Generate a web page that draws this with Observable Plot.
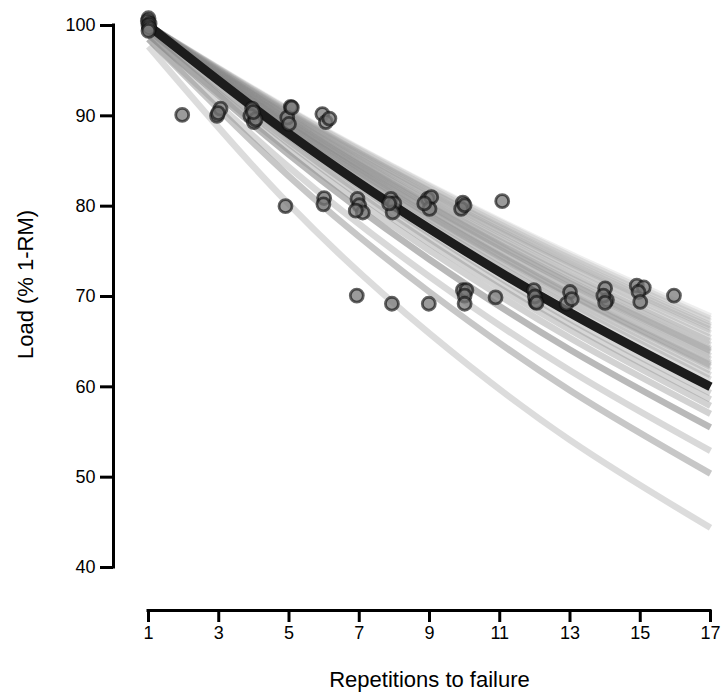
<!DOCTYPE html>
<html>
<head>
<meta charset="utf-8">
<script src="https://cdn.jsdelivr.net/npm/d3@7"></script>
<script src="https://cdn.jsdelivr.net/npm/@observablehq/plot@0.6"></script>
<style>
  html, body { margin: 0; padding: 0; background: white; }
</style>
</head>
<body>
<div id="chart"></div>
<script>
// Observed points: repetitions to failure vs load (% 1-RM)
const repX = [
  1.0, 0.98, 1.03, 1.0, 1.02, 1.0,
  1.96,
  2.95, 3.05, 2.98,
  3.95, 3.9, 4.0, 4.05, 3.98,
  5.05, 4.95, 5.0, 5.08, 4.9,
  5.95, 6.05, 6.15, 6.0, 5.98,
  6.95, 7.0, 7.1, 6.9, 6.93,
  7.9, 8.0, 7.95, 7.85, 7.93,
  8.95, 9.05, 9.0, 8.85, 8.98,
  9.95, 9.9, 10.0, 9.95, 10.05, 10.0, 10.0,
  11.07, 10.88,
  11.97, 12.02, 12.0, 12.05,
  13.0, 12.9, 13.05,
  14.0, 14.05, 13.95, 14.0,
  14.9, 15.1, 14.95, 15.0,
  15.96
];
const loadY = [
  100.8, 100.5, 100.2, 100.0, 99.7, 99.4,
  90.1,
  90.0, 90.8, 90.3,
  90.8, 90.0, 89.3, 89.6, 90.4,
  91.0, 89.8, 89.1, 90.9, 80.0,
  90.2, 89.3, 89.7, 80.9, 80.2,
  80.8, 80.1, 79.3, 79.5, 70.1,
  80.8, 80.3, 79.3, 80.3, 69.2,
  80.8, 81.0, 79.7, 80.3, 69.2,
  80.4, 79.7, 80.1, 70.7, 70.7, 70.1, 69.2,
  80.55, 69.9,
  70.7, 69.4, 70.0, 69.3,
  70.5, 69.2, 69.7,
  70.9, 69.6, 70.1, 69.3,
  71.2, 71.0, 70.5, 69.4,
  70.1
];

// Fitted curves read at these repetition counts
const curveReps = [1, 5, 9, 13, 17];
const individualCurves = [
  [100, 90.7, 82.3, 74.7, 67.8],
  [100, 90.6, 82.2, 74.5, 67.5],
  [100, 90.55, 82.0, 74.2, 67.2],
  [100, 90.4, 81.7, 73.9, 66.8],
  [100, 90.3, 81.6, 73.7, 66.6],
  [100, 90.2, 81.4, 73.4, 66.3],
  [100, 90.1, 81.2, 73.2, 65.9],
  [100, 89.9, 80.9, 72.7, 65.4],
  [100, 89.8, 80.6, 72.4, 65.0],
  [100, 89.7, 80.4, 72.1, 64.6],
  [100, 89.5, 80.1, 71.7, 64.2],
  [100, 89.4, 80.0, 71.5, 64.0],
  [100, 89.4, 79.9, 71.4, 63.8],
  [100, 89.2, 79.6, 71.0, 63.4],
  [100, 89.1, 79.4, 70.7, 63.0],
  [100, 88.9, 79.1, 70.3, 62.6],
  [100, 88.9, 79.0, 70.2, 62.4],
  [100, 88.8, 78.9, 70.1, 62.2],
  [100, 88.7, 78.6, 69.7, 61.8],
  [100, 88.5, 78.3, 69.3, 61.3],
  [100, 88.3, 78.0, 68.9, 60.8],
  [100, 87.7, 77.0, 67.5, 59.3],
  [99.5, 87.2, 76.4, 66.9, 58.6],
  [99.5, 86.9, 75.9, 66.3, 57.9],
  [99.0, 86.2, 75.1, 65.4, 57.0],
  [99.0, 85.7, 74.1, 64.1, 55.5],
  [98.5, 84.3, 72.2, 61.8, 52.9],
  [98.5, 83.3, 70.5, 59.6, 50.4],
  [97.7, 80.2, 65.9, 54.1, 44.4]
];
const curveWeight = [
  0.15, 0.18, 0.2, 0.22, 0.22, 0.25, 0.25, 0.28, 0.28, 0.28,
  0.3, 0.3, 0.3, 0.3, 0.3, 0.3, 0.28, 0.28, 0.28, 0.3,
  0.3, 0.35, 0.35, 0.38, 0.38, 0.6, 0.32, 0.48, 0.3
];
const meanCurve = [100, 88.0, 77.5, 68.2, 60.0];

const xTicks = [1, 3, 5, 7, 9, 11, 13, 15, 17];
const yTicks = [40, 50, 60, 70, 80, 90, 100];

// Build tables
const points = repX.map((x, i) => ({rep: x, load: loadY[i]}));
const curveRows = [];
individualCurves.forEach((vals, id) => {
  vals.forEach((v, j) => curveRows.push({rep: curveReps[j], load: v, id, w: curveWeight[id]}));
});
const meanRows = meanCurve.map((v, j) => ({rep: curveReps[j], load: v}));

const chart = Plot.plot({
  width: 721,
  height: 695,
  marginLeft: 148,
  marginRight: 11,
  marginTop: 25,
  marginBottom: 128,
  x: {domain: [1, 17], axis: null},
  y: {domain: [40, 100], axis: null},
  opacity: {type: "identity"},
  style: {fontFamily: "'Liberation Sans', Arial, Helvetica, sans-serif", background: "white", color: "#000"},
  marks: [
    // individual fitted curves
    Plot.line(curveRows, {x: "rep", y: "load", z: "id", stroke: "#8a8a8a", strokeOpacity: "w",
      strokeWidth: 6.5, curve: "natural", strokeLinecap: "butt"}),
    // mean fitted curve
    Plot.line(meanRows, {x: "rep", y: "load", stroke: "#1c1c1c", strokeWidth: 9,
      curve: "natural", strokeLinecap: "butt"}),
    // observed points
    Plot.dot(points, {x: "rep", y: "load", r: 6.5, fill: "#7a7a7a", fillOpacity: 0.75,
      stroke: "#111", strokeOpacity: 0.65, strokeWidth: 2.8}),
    // y axis (offset to the left)
    Plot.ruleX([1], {y1: 40, y2: 100, dx: -35, stroke: "#000", strokeWidth: 3, strokeLinecap: "square"}),
    Plot.axisY(yTicks, {anchor: "left", dx: -35, tickSize: 13, tickPadding: 5, strokeWidth: 3,
      fontSize: 18, label: null, tickFormat: d => String(d)}),
    // x axis (offset below)
    Plot.ruleY([40], {x1: 1, x2: 17, dy: 43, stroke: "#000", strokeWidth: 3, strokeLinecap: "square"}),
    Plot.axisX(xTicks, {anchor: "bottom", dy: 43, tickSize: 12, tickPadding: 4, strokeWidth: 3,
      fontSize: 18, label: null, tickFormat: d => String(d)}),
    // axis titles
    Plot.text(["Repetitions to failure"], {frameAnchor: "bottom", dy: 112, fontSize: 22,
      lineAnchor: "middle", textAnchor: "middle", fill: "#000", ariaLabel: "x-title"}),
    Plot.text(["Load (% 1-RM)"], {frameAnchor: "left", dx: -123, dy: -12, rotate: -90, fontSize: 22,
      lineAnchor: "middle", textAnchor: "middle", fill: "#000", ariaLabel: "y-title"})
  ]
});
// widen the axis titles slightly to match the reference lettering
d3.select(chart).selectAll('g[aria-label="x-title"] text, g[aria-label="y-title"] text')
  .style("letter-spacing", "1.2px");
document.getElementById("chart").appendChild(chart);
</script>
</body>
</html>
